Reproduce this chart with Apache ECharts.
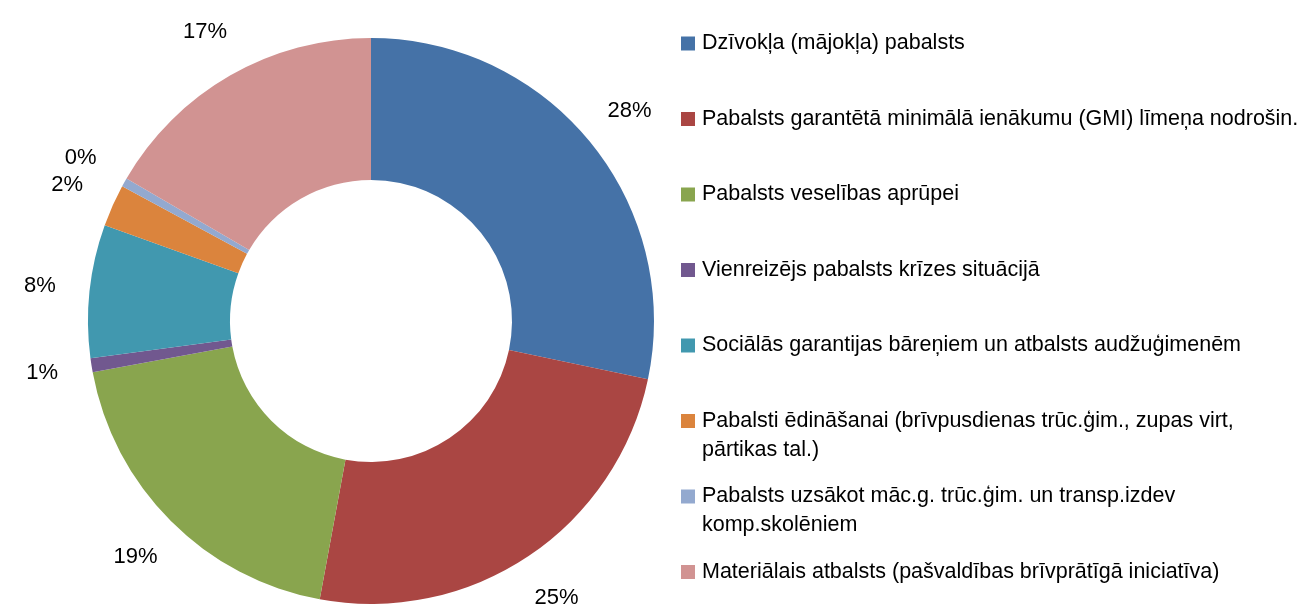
<!DOCTYPE html>
<html>
<head>
<meta charset="utf-8">
<script src="https://cdn.jsdelivr.net/npm/echarts@6/dist/echarts.min.js"></script>
<style>
  html, body { margin: 0; padding: 0; background: #ffffff; }
  #chart { width: 1308px; height: 612px; }
</style>
</head>
<body>
<div id="chart"></div>
<script>
// ---- Data ----
const categories = [
  'Dzīvokļa (mājokļa) pabalsts',
  'Pabalsts garantētā minimālā ienākumu (GMI) līmeņa nodrošin.',
  'Pabalsts veselības aprūpei',
  'Vienreizējs pabalsts krīzes situācijā',
  'Sociālās garantijas bāreņiem un atbalsts audžuģimenēm',
  'Pabalsti ēdināšanai (brīvpusdienas trūc.ģim., zupas virt,\npārtikas tal.)',
  'Pabalsts uzsākot māc.g. trūc.ģim. un transp.izdev\nkomp.skolēniem',
  'Materiālais atbalsts (pašvaldības brīvprātīgā iniciatīva)'
];
const values = [28.3, 24.6, 19.2, 0.8, 7.6, 2.4, 0.5, 16.6];
const colors = ['#4572A7', '#AA4643', '#89A54E', '#71588F', '#4198AF', '#DB843D', '#93A9CF', '#D19392'];

// ---- Font detection ----
function fontAvailable(name) {
  const c = document.createElement('canvas').getContext('2d');
  const s = 'Pabalsts garantētā minimālā WMIlii 0123';
  let differs = false;
  ['monospace', 'serif'].forEach(fb => {
    c.font = '40px ' + fb; const w0 = c.measureText(s).width;
    c.font = '40px "' + name + '", ' + fb; const w1 = c.measureText(s).width;
    if (Math.abs(w0 - w1) > 0.5) differs = true;
  });
  return differs;
}
let FONT, FS, LFS;
const narrow = ['Liberation Sans Narrow', 'Arial Narrow', 'Nimbus Sans Narrow'].find(fontAvailable);
if (narrow) { FONT = '"' + narrow + '", sans-serif'; FS = 24; LFS = 24; }
else { FONT = '"Liberation Sans", Arial, sans-serif'; FS = 21.5; LFS = 22; }

// ---- Chart ----
const LH = 29;
const chart = echarts.init(document.getElementById('chart'), null, { renderer: 'canvas' });

const pieData = categories.map((name, i) => ({ name, value: values[i], itemStyle: { color: colors[i] } }));

chart.setOption({
  animation: false,
  backgroundColor: '#ffffff',
  color: colors,
  legend: {
    orient: 'vertical',
    left: 681,
    top: 0,
    height: 900,
    padding: 0,
    itemWidth: 14,
    itemHeight: 14,
    itemGap: 75.5 - 3 * LH,
    icon: 'rect',
    selectedMode: false,
    data: categories,
    formatter: function (name) {
      return name.indexOf('\n') >= 0 ? '\n' + name : '\n' + name + '\n';
    },
    textStyle: { fontFamily: FONT, fontSize: FS, color: '#000000', lineHeight: LH, padding: [0, 0, 0, 2] }
  },
  series: [
    {
      type: 'pie',
      center: [371, 321],
      radius: [141, 283],
      startAngle: 90,
      clockwise: true,
      silent: true,
      label: { show: false },
      labelLine: { show: false },
      data: pieData
    },
    {
      type: 'pie',
      center: [371, 321],
      radius: [306, 354],
      startAngle: 90,
      clockwise: true,
      silent: true,
      percentPrecision: 0,
      itemStyle: { color: 'rgba(0,0,0,0)' },
      label: {
        show: true,
        position: 'inside',
        formatter: '{d}%',
        fontFamily: FONT,
        fontSize: LFS,
        color: '#000000'
      },
      labelLine: { show: false },
      data: categories.map((name, i) => ({ name, value: values[i], itemStyle: { color: 'rgba(0,0,0,0)' } }))
    }
  ]
});
</script>
</body>
</html>
